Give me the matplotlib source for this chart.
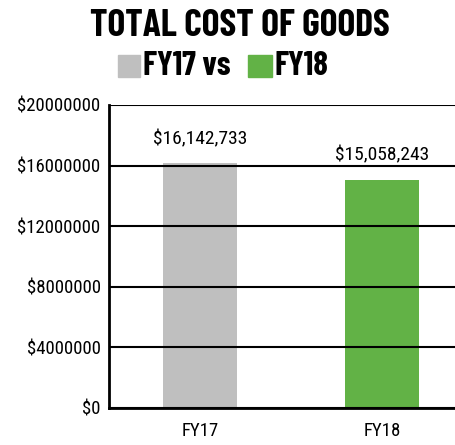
import matplotlib
matplotlib.use("Agg")
import matplotlib.pyplot as plt
from matplotlib.patches import Rectangle
from matplotlib.ticker import FuncFormatter

# data
years = ["FY17", "FY18"]
costs = [16142733, 15058243]
bar_colors = ["#BFBFBF", "#62B246"]
yticks = [0, 4000000, 8000000, 12000000, 16000000, 20000000]

FONT = dict(family=["Roboto Condensed", "DejaVu Sans"])
HEAD = dict(family=["Barlow Condensed", "Roboto Condensed", "DejaVu Sans"], fontweight="bold")

fig = plt.figure(figsize=(4.55, 4.45), dpi=100)
ax = fig.add_axes([109 / 455, 37 / 445, 346 / 455, 303 / 445])

x = range(len(years))
ax.bar(x, costs, width=0.41, color=bar_colors, zorder=1)
ax.set_xlim(-0.5, 1.40)
ax.set_ylim(0, 20000000)
ax.set_yticks(yticks)
ax.yaxis.set_major_formatter(FuncFormatter(lambda v, _: f"${int(v)}"))
ax.set_xticks(list(x))
ax.set_xticklabels(years)
ax.grid(axis="y", color="black", linewidth=1.5, zorder=2)
ax.set_axisbelow(False)
for side in ["top", "right"]:
    ax.spines[side].set_visible(False)
for side in ["left", "bottom"]:
    ax.spines[side].set_linewidth(2)
ax.tick_params(axis="y", length=0, pad=6)
ax.tick_params(axis="x", length=0, pad=10)
for lbl in ax.get_xticklabels() + ax.get_yticklabels():
    lbl.set_fontsize(13.5)
    lbl.set(**FONT)

for xi, v in zip(x, costs):
    ax.annotate(f"${v:,}", xy=(xi, v), xytext=(0, 11), textcoords="offset points",
                ha="center", va="bottom", fontsize=14, **FONT)

# title + legend-ish header
fig.text(240 / 455, 1 - 26 / 445, "TOTAL COST OF GOODS", ha="center", va="center",
         fontsize=27, **HEAD)
fig.patches.append(Rectangle((118 / 455, 1 - 77 / 445), 22 / 455, 22 / 445,
                             transform=fig.transFigure, color=bar_colors[0]))
fig.text(143 / 455, 1 - 66 / 445, "FY17 vs", ha="left", va="center",
         fontsize=24, **HEAD)
fig.patches.append(Rectangle((248 / 455, 1 - 77 / 445), 24 / 455, 22 / 445,
                             transform=fig.transFigure, color=bar_colors[1]))
fig.text(275 / 455, 1 - 66 / 445, "FY18", ha="left", va="center",
         fontsize=24, **HEAD)

fig.savefig("out.png", dpi=100)
